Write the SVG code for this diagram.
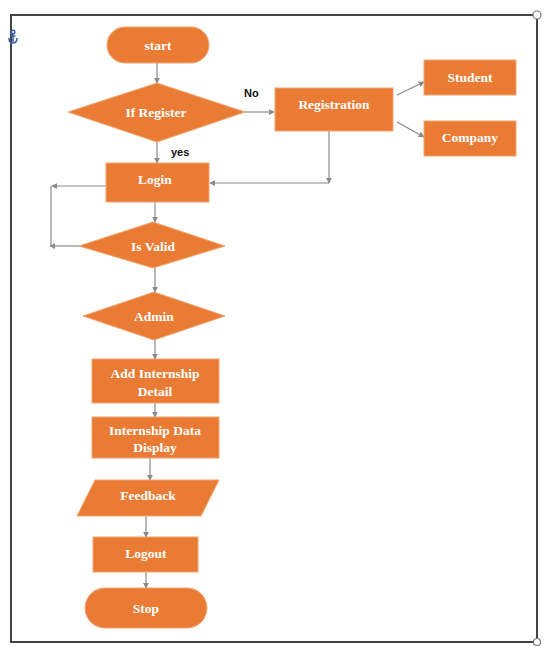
<svg xmlns="http://www.w3.org/2000/svg" width="545" height="646" viewBox="0 0 545 646">
<defs>
<marker id="ah" viewBox="0 0 8 8" refX="7" refY="4" markerWidth="5" markerHeight="5" orient="auto">
<path d="M0,0 L8,4 L0,8 z" fill="#8a8a8a"/>
</marker>
<style>
.n{fill:#E97B34;stroke:#F2A46E;stroke-width:1}
.t{fill:#ffffff;font-family:"Liberation Serif",serif;font-weight:bold;font-size:13.5px;text-anchor:middle;dominant-baseline:central}
.l{fill:#111;font-family:"Liberation Sans",sans-serif;font-weight:bold;font-size:11px}
.c{fill:none;stroke:#8a8a8a;stroke-width:1.2}
.a{marker-end:url(#ah)}
</style>
</defs>
<rect width="545" height="646" fill="#ffffff"/>
<g id="frame">
<rect x="11" y="15" width="526" height="627" fill="none" stroke="#444" stroke-width="2"/>
<circle cx="537" cy="15" r="4" fill="#fff" stroke="#777" stroke-width="1.2"/>
<circle cx="537" cy="642" r="3.5" fill="#fff" stroke="#777" stroke-width="1.2"/>
<g id="anchor" fill="none" stroke="#3d5fa8" stroke-width="1.6">
<circle cx="13" cy="32" r="1.8"/>
<path d="M13,34 V42 M9,38 Q9,43 13,43 Q17,43 17,38 M10.5,36 H15.5"/>
</g>
</g>
<g id="connectors">
<path class="c a" d="M157,63 V83"/>
<path class="c a" d="M245,112 H274"/>
<path class="c a" d="M397,95 L424,82"/>
<path class="c a" d="M397,122 L424,137"/>
<path class="c a" d="M329,131 V183"/>
<path class="c a" d="M329,183 H210"/>
<path class="c a" d="M157,142 V163"/>
<path class="c a" d="M106,186 H52"/>
<path class="c" d="M51,186 V246"/>
<path class="c a" d="M79,246 H50"/>
<path class="c a" d="M155,202 V222"/>
<path class="c a" d="M155,268 V292"/>
<path class="c a" d="M155,340 V359"/>
<path class="c a" d="M155,403 V417"/>
<path class="c a" d="M150,458 V480"/>
<path class="c a" d="M146,516 V537"/>
<path class="c a" d="M146,572 V588"/>
<text class="l" x="244" y="97">No</text>
<text class="l" x="171" y="156">yes</text>
</g>
<g id="start"><rect class="n" x="107" y="27" width="102" height="36" rx="18"/><text class="t" x="158" y="45">start</text></g>
<g id="ifregister"><polygon class="n" points="157,83 245,112 157,142 68,112"/><text class="t" x="156" y="112">If Register</text></g>
<g id="registration"><rect class="n" x="275" y="88" width="118" height="43"/><text class="t" x="334" y="104">Registration</text></g>
<g id="student"><rect class="n" x="424" y="60" width="92" height="35"/><text class="t" x="470" y="77">Student</text></g>
<g id="company"><rect class="n" x="424" y="121" width="92" height="35"/><text class="t" x="470" y="137">Company</text></g>
<g id="login"><rect class="n" x="106" y="163" width="103" height="39"/><text class="t" x="155" y="179">Login</text></g>
<g id="isvalid"><polygon class="n" points="153,222 225,246 153,268 79,246"/><text class="t" x="153" y="246">Is Valid</text></g>
<g id="admin"><polygon class="n" points="154,292 225,316 154,340 83,316"/><text class="t" x="154" y="316">Admin</text></g>
<g id="addinternship"><rect class="n" x="92" y="359" width="127" height="44"/><text class="t" x="155" y="373">Add Internship</text><text class="t" x="155" y="391">Detail</text></g>
<g id="internshipdata"><rect class="n" x="92" y="417" width="127" height="41"/><text class="t" x="155" y="430">Internship Data</text><text class="t" x="155" y="447">Display</text></g>
<g id="feedback"><polygon class="n" points="95,480 219,480 201,516 77,516"/><text class="t" x="148" y="495">Feedback</text></g>
<g id="logout"><rect class="n" x="93" y="537" width="105" height="35"/><text class="t" x="146" y="553">Logout</text></g>
<g id="stop"><rect class="n" x="85" y="588" width="122" height="40" rx="20"/><text class="t" x="146" y="608">Stop</text></g>
</svg>
